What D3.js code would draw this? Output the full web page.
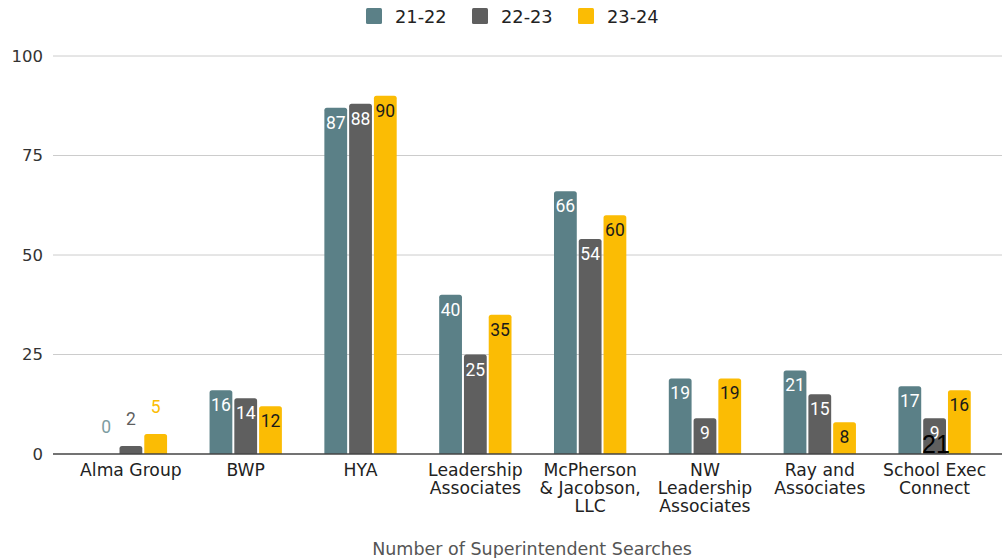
<!DOCTYPE html>
<html><head><meta charset="utf-8">
<script src="https://cdn.jsdelivr.net/npm/d3@7"></script>
<style>body{margin:0;background:#fff} svg{display:block}</style>
</head><body>
<svg id="c" width="1002" height="558"></svg>
<script>
const categories = ["Alma Group", "BWP", "HYA", "Leadership\nAssociates", "McPherson\n& Jacobson,\nLLC", "NW\nLeadership\nAssociates", "Ray and\nAssociates", "School Exec\nConnect"];
const seriesNames = ["21-22", "22-23", "23-24"];
const values2122 = [0, 16, 87, 40, 66, 19, 21, 17];
const values2223 = [2, 14, 88, 25, 54, 9, 15, 9];
const values2324 = [5, 12, 90, 35, 60, 19, 8, 16];
const yTicks = [0, 25, 50, 75, 100];
const strayLabel = "21";
const seriesColors = ["#5b8087", "#5f5f5f", "#fbbc04"];
const labelInsideColors = ["#ffffff", "#ffffff", "#1a1a1a"];
const axisTitle = "Number of Superintendent Searches";

const allValues = [values2122, values2223, values2324];
const svg = d3.select("#c");
const W = 1002, H = 558;
const m = {left: 53, right: 0, top: 56, bottom: 104};

const y = d3.scaleLinear().domain([0, 100]).range([454, 56]);
const x0 = d3.scaleBand().domain(d3.range(categories.length)).range([73.5, 992]).paddingInner(0.37).paddingOuter(0.185);
const x1 = d3.scaleBand().domain(d3.range(3)).range([0, x0.bandwidth()]).paddingInner(0.08);

// gridlines
const grid = svg.append("g");
grid.selectAll("line").data(yTicks.filter(t => t > 0)).join("line")
  .attr("x1", m.left).attr("x2", W).attr("y1", d => y(d)).attr("y2", d => y(d))
  .attr("stroke", "#cccccc").attr("stroke-width", 1);

// y axis labels
const yAxis = d3.axisLeft(y).tickValues(yTicks).tickSize(0).tickPadding(0);
const ya = svg.append("g").attr("transform", `translate(43,0)`).call(yAxis);
ya.select(".domain").remove();
ya.selectAll("text").attr("font-family", "DejaVu Sans, Verdana, sans-serif").attr("font-size", "16.5px").attr("fill", "#333");

function barPath(x, yy, w, h, r) {
  r = Math.min(r, h, w / 2);
  if (h <= 0) return "";
  return `M${x},${yy + h}V${yy + r}Q${x},${yy} ${x + r},${yy}H${x + w - r}Q${x + w},${yy} ${x + w},${yy + r}V${yy + h}Z`;
}

const groups = svg.append("g").selectAll("g").data(categories).join("g")
  .attr("transform", (d, i) => `translate(${x0(i)},0)`);

groups.each(function(cat, ci) {
  const g = d3.select(this);
  allValues.forEach((vals, si) => {
    const v = vals[ci];
    const bx = x1(si), bw = x1.bandwidth();
    const top = y(v), h = y(0) - y(v);
    g.append("path").attr("d", barPath(bx, top, bw, h, 2.5)).attr("fill", seriesColors[si]);
    const inside = h > 24;
    g.append("text")
      .attr("x", bx + bw / 2)
      .attr("y", inside ? top + 21 : top - 21)
      .attr("text-anchor", "middle")
      .attr("font-family", "Roboto, Arial, sans-serif")
      .attr("font-size", "17.5px")
      .attr("fill", inside ? labelInsideColors[si] : (si === 0 ? "#7d9ca1" : seriesColors[si]))
      .text(v);
  });
});

// baseline
svg.append("line").attr("x1", m.left).attr("x2", W).attr("y1", y(0)).attr("y2", y(0))
  .attr("stroke", "#444").attr("stroke-width", 1.5);

// x labels
const xl = svg.append("g");
categories.forEach((c, i) => {
  const t = xl.append("text")
    .attr("x", x0(i) + x0.bandwidth() / 2).attr("y", 476)
    .attr("text-anchor", "middle")
    .attr("font-family", "DejaVu Sans, Verdana, sans-serif")
    .attr("font-size", "17.2px").attr("fill", "#222");
  c.split("\n").forEach((line, li) => {
    t.append("tspan").attr("x", x0(i) + x0.bandwidth() / 2).attr("dy", li === 0 ? 0 : 18).text(line);
  });
});

// stray label present in reference
svg.append("text").attr("x", 936).attr("y", 453).attr("text-anchor", "middle")
  .attr("font-family", "Liberation Sans, Arial, sans-serif").attr("font-size", "25px").attr("fill", "#000")
  .text(strayLabel);

// axis title
svg.append("text").attr("x", 532).attr("y", 555).attr("text-anchor", "middle")
  .attr("font-family", "DejaVu Sans, Verdana, sans-serif").attr("font-size", "17.5px").attr("fill", "#555")
  .text(axisTitle);

// legend
const legendX = [366, 472, 578];
const lg = svg.append("g");
seriesNames.forEach((s, i) => {
  lg.append("rect").attr("x", legendX[i]).attr("y", 8).attr("width", 16).attr("height", 16).attr("rx", 1.5).attr("fill", seriesColors[i]);
  lg.append("text").attr("x", legendX[i] + 29).attr("y", 23)
    .attr("font-family", "DejaVu Sans, Verdana, sans-serif").attr("font-size", "17.8px").attr("fill", "#222").text(s);
});
</script>
</body></html>
